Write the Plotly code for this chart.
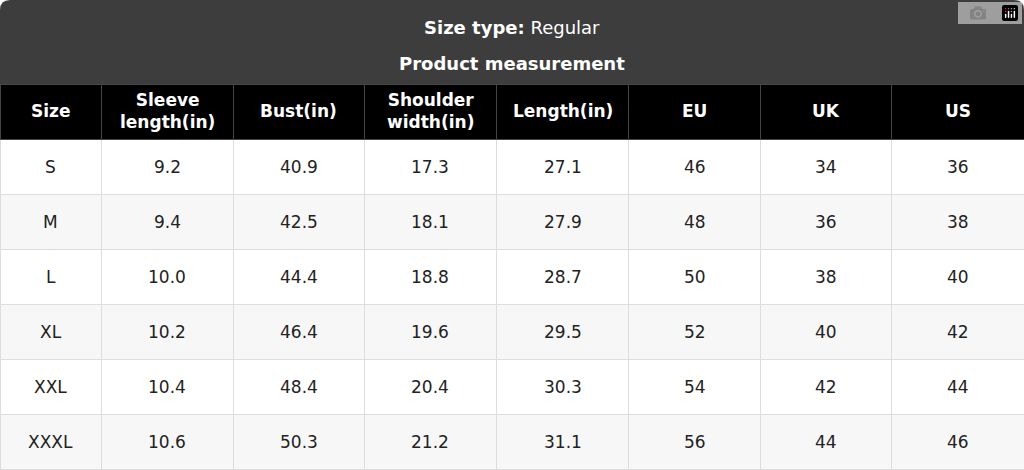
import plotly.graph_objects as go

sizes = ["S", "M", "L", "XL", "XXL", "XXXL"]
sleeve = ["9.2", "9.4", "10.0", "10.2", "10.4", "10.6"]
bust = ["40.9", "42.5", "44.4", "46.4", "48.4", "50.3"]
shoulder = ["17.3", "18.1", "18.8", "19.6", "20.4", "21.2"]
length = ["27.1", "27.9", "28.7", "29.5", "30.3", "31.1"]
eu = ["46", "48", "50", "52", "54", "56"]
uk = ["34", "36", "38", "40", "42", "44"]
us = ["36", "38", "40", "42", "44", "46"]
headers = ["Size", "Sleeve<br>length(in)", "Bust(in)", "Shoulder<br>width(in)", "Length(in)", "EU", "UK", "US"]

W, H = 1024, 470
top = 84
rowh = 55
widths = [101, 132, 131, 132, 132, 132, 131, 132]
cols = [sizes, sleeve, bust, shoulder, length, eu, uk, us]
n = len(sizes)
fills = [["#ffffff" if i % 2 == 0 else "#f7f7f7" for i in range(n)]] * 8

fig = go.Figure(go.Table(
    domain=dict(x=[0, 1], y=[0, (H - top) / H]),
    columnwidth=widths,
    header=dict(values=[""] * 8, fill_color="#000000", line_color="#444444", height=rowh),
    cells=dict(values=[[""] * n] * 8, fill_color=fills, line_color="#dddddd", height=rowh),
))

tot = sum(widths)
x0 = 0
font_c = dict(color="#222222", size=17, family="DejaVu Sans")
font_h = dict(color="white", size=17, family="DejaVu Sans")
for j, w in enumerate(widths):
    xc = (x0 + w / 2) / tot
    x0 += w
    fig.add_annotation(x=xc, y=1 - (top + rowh / 2) / H, xref="paper", yref="paper",
                       showarrow=False, text=f"<b>{headers[j]}</b>", font=font_h,
                       yanchor="middle", xanchor="center")
    for i in range(n):
        fig.add_annotation(x=xc, y=1 - (top + rowh * (i + 1.5)) / H, xref="paper", yref="paper",
                           showarrow=False, text=cols[j][i], font=font_c,
                           yanchor="middle", xanchor="center")

fig.add_shape(type="path", xref="paper", yref="paper", layer="below",
              path=f"M 0 {(H-top)/H} L 0 {(H-10)/H} Q 0 1 {10/W} 1 L {1-10/W} 1 Q 1 1 1 {(H-10)/H} L 1 {(H-top)/H} Z",
              fillcolor="#3d3d3d", line_width=0)
fig.add_annotation(x=0.5, y=1 - 28 / H, xref="paper", yref="paper", showarrow=False, yanchor="middle",
                   text="<b>Size type:</b> Regular", font=dict(color="white", size=18, family="DejaVu Sans"))
fig.add_annotation(x=0.5, y=1 - 64 / H, xref="paper", yref="paper", showarrow=False, yanchor="middle",
                   text="<b>Product measurement</b>", font=dict(color="white", size=18, family="DejaVu Sans"))
fig.update_layout(width=W, height=H, margin=dict(l=0, r=0, t=0, b=0),
                  paper_bgcolor="white", plot_bgcolor="white")
fig.write_html("out.html", post_script="document.body.style.margin='0';document.body.style.overflow='hidden';")
